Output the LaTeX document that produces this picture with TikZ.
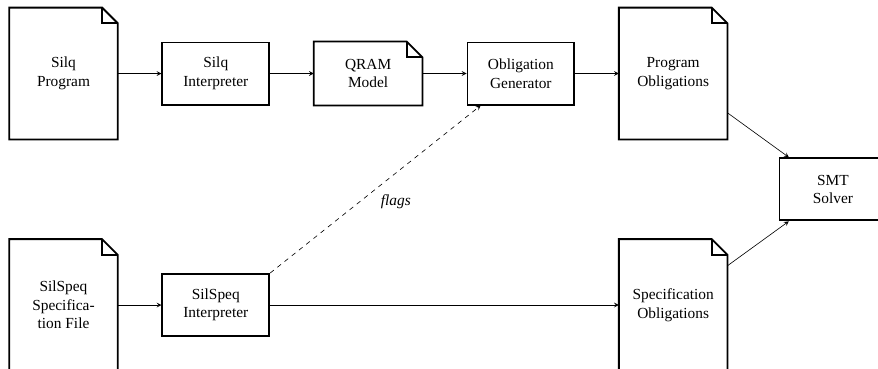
\documentclass[tikz,border=0pt]{standalone}
\usepackage{fontspec}
\setmainfont{Liberation Serif}
\tikzset{
  box/.style={draw, line width=1.2pt, align=center, minimum width=2.44cm, minimum height=1.42cm},
  docfile/.style={box, draw=none},
  tall/.style={minimum height=2.97cm},
  flow/.style={-stealth},
}
\begin{document}
\begin{tikzpicture}
      \useasboundingbox (-1.451,-6.73) rectangle (18.61,1.68);
      \def\fold{0.36cm}

      \node[docfile, tall] (prog) at (0,0) {Silq\\Program};
      \node[box] (sint) at (3.48,0) {Silq\\Interpreter};
      \node[docfile] (qram) at (6.96,0) {QRAM\\Model};
      \node[box] (gen) at (10.45,0) {Obligation\\Generator};
      \node[docfile, tall] (po) at (13.93,0) {Program\\Obligations};
      \node[box] (smt) at (17.58,-2.645) {SMT\\Solver};
      \node[docfile, tall] (spec) at (0,-5.29) {SilSpeq\\Specifica-\\tion File};
      \node[box] (speqint) at (3.48,-5.29) {SilSpeq\\Interpreter};
      \node[docfile, tall] (so) at (13.93,-5.29) {Specification\\Obligations};

      \foreach \n in {prog,qram,po,spec,so} {
          \draw[line width=1.2pt] (\n.south west) -- (\n.north west) -- ([xshift=-\fold]\n.north east)
            -- ([yshift=-\fold]\n.north east) -- (\n.south east) -- cycle;
          \draw[line width=1.2pt] ([xshift=-\fold]\n.north east) |- ([yshift=-\fold]\n.north east);
        }

      \draw[flow] (prog) -- (sint);
      \draw[flow] (sint) -- (qram);
      \draw[flow] (qram) -- (gen);
      \draw[flow] (gen) -- (po);
      \draw[flow] (po) -- (smt);
      \draw[flow] (spec) -- (speqint);
      \draw[flow] (speqint) -- (so);
      \draw[flow] (so) -- (smt);
      \draw[flow, dashed] (speqint.north east) -- (gen) node[midway, below right] {\textit{flags}};
    \end{tikzpicture}
\end{document}
